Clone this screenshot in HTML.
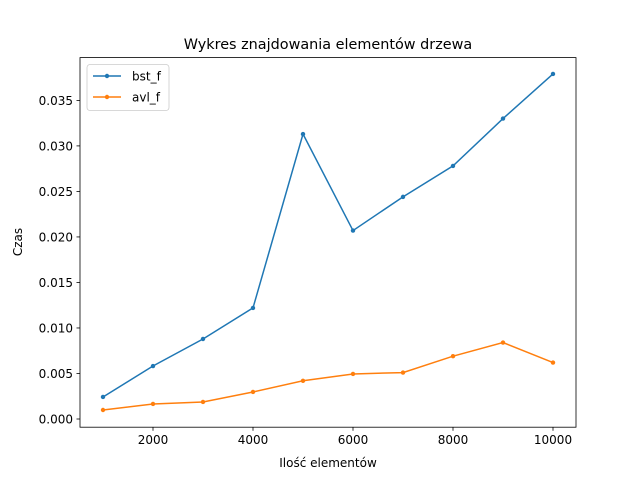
<!DOCTYPE html>
<html><head><meta charset="utf-8"><style>
body{margin:0;background:#fff}
svg{display:block;font-family:"DejaVu Sans","Liberation Sans",sans-serif}
</style></head><body>
<svg id="chart" width="640" height="480">
<text x="328" y="49" font-size="14.4" text-anchor="middle">Wykres znajdowania elementów drzewa</text>
<text x="328" y="467" font-size="12" text-anchor="middle">Ilość elementów</text>
<text x="22" y="242" font-size="12" text-anchor="middle" transform="rotate(-90 22 242)">Czas</text>
<g id="ticks"></g><g id="series"></g>
<rect x="80" y="57.6" width="496" height="369.6" fill="none" stroke="#000" stroke-width="0.8"/>
<g>
<rect x="87" y="64.5" width="82" height="46" rx="3" fill="#fff" fill-opacity="0.8" stroke="#ccc" stroke-width="0.8"/>
<g><line x1="93" y1="76" x2="121" y2="76" stroke="#1f77b4" stroke-width="1.5"/><circle cx="107" cy="76" r="2.2" fill="#1f77b4"/><text x="132" y="80.5" font-size="12">bst_f</text></g>
<g><line x1="93" y1="97" x2="121" y2="97" stroke="#ff7f0e" stroke-width="1.5"/><circle cx="107" cy="97" r="2.2" fill="#ff7f0e"/><text x="132" y="101.5" font-size="12">avl_f</text></g>
</g>
</svg>
<script>
const categories=[1000,2000,3000,4000,5000,6000,7000,8000,9000,10000];
const bstValues=[0.00242,0.00582,0.00879,0.0122,0.0313,0.0207,0.0244,0.0278,0.033,0.0379];
const avlValues=[0.00099,0.00165,0.00187,0.00297,0.0042,0.00495,0.0051,0.0069,0.0084,0.0062];
const xTicks=[2000,4000,6000,8000,10000];
const yTicks=[0,0.005,0.01,0.015,0.02,0.025,0.03,0.035];
const NS="http://www.w3.org/2000/svg";
const X0=80,X1=576,Y0=427.2,Y1=57.6;
const xmin=540,xmax=10460,ymin=-0.0009,ymax=0.0397;
const sx=v=>X0+(v-xmin)/(xmax-xmin)*(X1-X0);
const sy=v=>Y0-(v-ymin)/(ymax-ymin)*(Y0-Y1);
function mk(t,a,p){const e=document.createElementNS(NS,t);for(const k in a)e.setAttribute(k,a[k]);p.appendChild(e);return e;}
const tg=document.getElementById('ticks');
xTicks.forEach(v=>{const g=mk('g',{},tg);


mk('line',{x1:sx(v),x2:sx(v),y1:Y0,y2:Y0+3.5,stroke:'#000','stroke-width':0.8},g);
const t=mk('text',{x:sx(v),y:Y0+17,'font-size':12,'text-anchor':'middle'},g);t.textContent=v;});
yTicks.forEach(v=>{const g=mk('g',{},tg);


mk('line',{x1:X0-3.5,x2:X0,y1:sy(v),y2:sy(v),stroke:'#000','stroke-width':0.8},g);
const t=mk('text',{x:X0-7,y:sy(v)+4.5,'font-size':12,'text-anchor':'end'},g);t.textContent=v.toFixed(3);});
const sg=document.getElementById('series');
[[bstValues,'#1f77b4','bst'],[avlValues,'#ff7f0e','avl']].forEach(([vals,c,n])=>{
const g=mk('g',{},sg);


mk('polyline',{points:vals.map((v,i)=>sx(categories[i])+','+sy(v)).join(' '),fill:'none',stroke:c,'stroke-width':1.5},g);
vals.forEach((v,i)=>{const p=mk('circle',{cx:sx(categories[i]),cy:sy(v),r:2.2,fill:c},g);

});
});
</script>
</body></html>
